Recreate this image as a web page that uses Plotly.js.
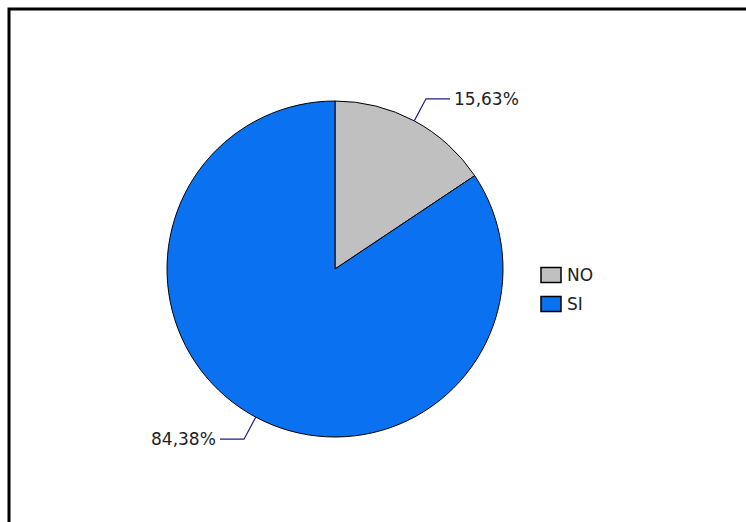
<!DOCTYPE html>
<html>
<head>
<meta charset="utf-8">
<script src="https://cdn.plot.ly/plotly-3.0.1.min.js"></script>
<style>html,body{margin:0;padding:0;background:#fff;}#chart{width:746px;height:522px;}</style>
</head>
<body>
<div id="chart"></div>
<script>
// Data
const labels = ["NO", "SI"];
const values = [15.63, 84.38];
const colors = ["#C0C0C0", "#0A72F0"];

// Layout geometry (pixels)
const W = 746, H = 522;
const cx = 335, cy = 269, R = 168;
const FONT = "DejaVu Sans, Arial, sans-serif";
const leaderColor = "#1F1F80";

const px = x => x / W;
const py = y => 1 - y / H;

const total = values.reduce((a, b) => a + b, 0);
const shapes = [];
const annotations = [];

// Outer frame (only top & left visible)
shapes.push({type: "rect", xref: "paper", yref: "paper",
  x0: px(9), x1: px(W + 20), y0: py(H + 20), y1: py(9),
  line: {color: "#000", width: 3}, fillcolor: "rgba(0,0,0,0)"});

// Leader lines + outside labels, derived from slice angles
let cum = 0;
values.forEach((v, i) => {
  const mid = (cum + v / 2) / total * 2 * Math.PI; // clockwise from 12 o'clock
  cum += v;
  const sx = Math.sin(mid), sy = -Math.cos(mid);
  const x1 = cx + R * sx, y1 = cy + R * sy;
  const ext = 25;
  const x2 = cx + (R + ext) * sx, y2 = cy + (R + ext) * sy;
  const dir = sx >= 0 ? 1 : -1;
  const x3 = x2 + dir * 24;
  shapes.push({type: "path", xref: "paper", yref: "paper",
    path: `M${px(x1)},${py(y1)} L${px(x2)},${py(y2)} L${px(x3)},${py(y2)}`,
    line: {color: leaderColor, width: 1.2}});
  const txt = v.toFixed(2).replace(".", ",") + "%";
  annotations.push({xref: "paper", yref: "paper", x: px(x3 + dir * 2), y: py(y2),
    xanchor: dir > 0 ? "left" : "right", yanchor: "middle", showarrow: false,
    text: txt, font: {family: FONT, size: 17, color: "#222"}});
});

// Custom legend
const legX = 541, legY0 = 275, legStep = 29, boxW = 20, boxH = 15;
labels.forEach((lab, i) => {
  const yc = legY0 + i * legStep;
  shapes.push({type: "rect", xref: "paper", yref: "paper",
    x0: px(legX), x1: px(legX + boxW), y0: py(yc + boxH / 2), y1: py(yc - boxH / 2),
    line: {color: "#000", width: 1.5}, fillcolor: colors[i]});
  annotations.push({xref: "paper", yref: "paper", x: px(legX + boxW + 4), y: py(yc),
    xanchor: "left", yanchor: "middle", showarrow: false,
    text: lab, font: {family: FONT, size: 17, color: "#222"}});
});

const trace = {
  type: "pie",
  labels: labels,
  values: values,
  sort: false,
  direction: "clockwise",
  rotation: 0,
  textinfo: "none",
  hoverinfo: "label+percent",
  marker: {colors: colors, line: {color: "#000", width: 1}},
  domain: {x: [px(cx - R), px(cx + R)], y: [py(cy + R), py(cy - R)]},
  showlegend: false
};

const layout = {
  width: W, height: H,
  margin: {l: 0, r: 0, t: 0, b: 0},
  paper_bgcolor: "#fff",
  showlegend: false,
  shapes: shapes,
  annotations: annotations,
  font: {family: FONT}
};

Plotly.newPlot("chart", [trace], layout, {displayModeBar: false, staticPlot: true});
</script>
</body>
</html>
